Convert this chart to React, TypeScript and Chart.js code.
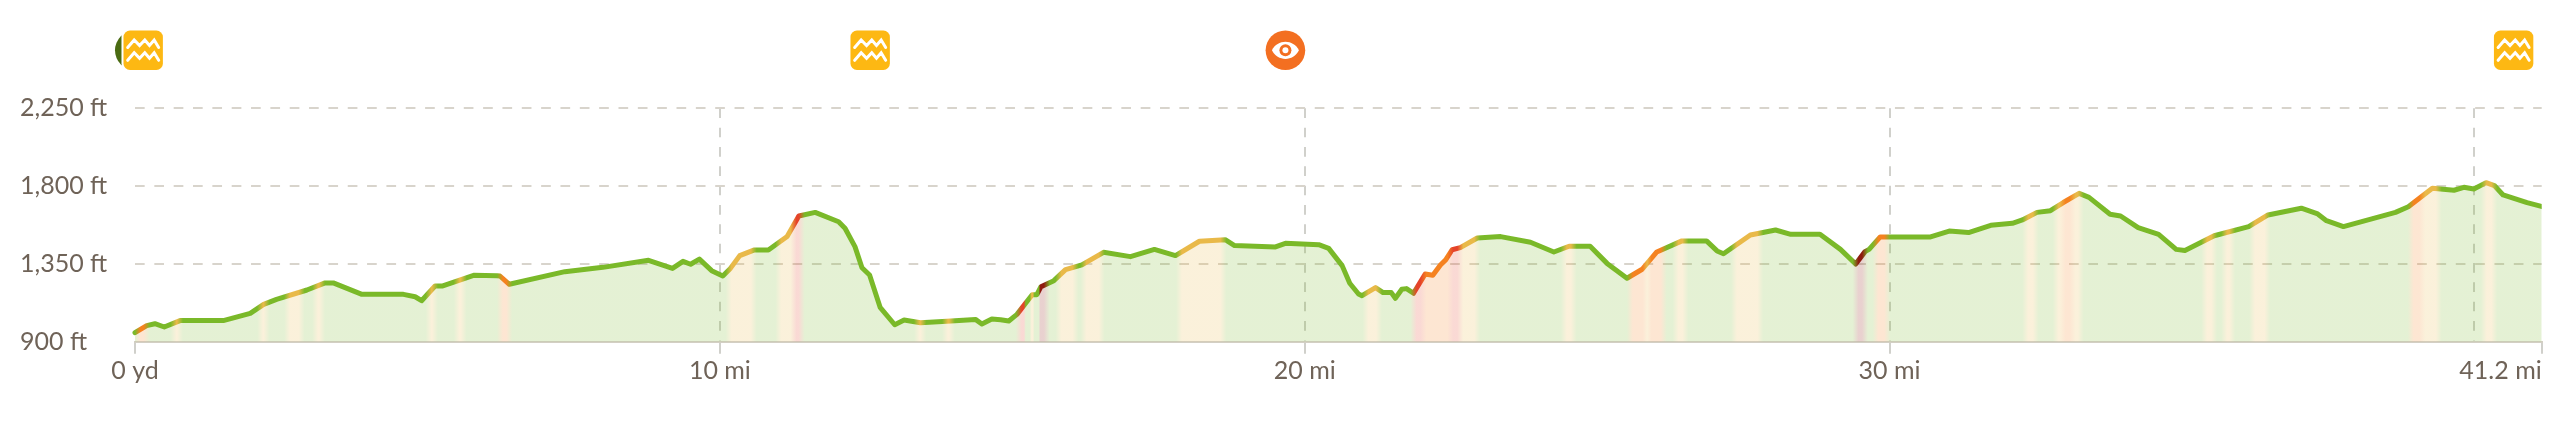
import React, { useEffect, useRef } from "react";
import { Chart, registerables } from "chart.js";

Chart.register(...registerables);

const distanceMi = [
  0, 0.2, 0.34, 0.5, 0.77, 1.51, 1.97, 2.2, 2.42, 2.94, 3.25, 3.39, 3.88, 4.59, 4.79, 4.9, 5.13, 5.25, 5.79, 6.19,
  6.24, 6.4, 7.35, 8.0, 8.78, 9.19, 9.37, 9.5, 9.65, 9.86, 10.05, 10.18, 10.34, 10.58, 10.83, 11.15, 11.35, 11.63, 12.03, 12.14,
  12.31, 12.43, 12.56, 12.74, 12.99, 13.15, 13.43, 13.88, 14.37, 14.48, 14.65, 14.8, 14.94, 15.08, 15.34, 15.42, 15.49, 15.71, 15.91, 16.19,
  16.56, 17.02, 17.43, 17.79, 18.2, 18.64, 18.8, 19.5, 19.67, 20.24, 20.41, 20.64, 20.77, 20.92, 20.98, 21.21, 21.34, 21.48, 21.55, 21.66,
  21.74, 21.86, 22.06, 22.19, 22.32, 22.41, 22.52, 22.66, 22.95, 23.35, 23.86, 24.26, 24.52, 24.88, 25.17, 25.51, 25.77, 26.02, 26.45, 26.87,
  27.05, 27.16, 27.62, 28.05, 28.31, 28.81, 29.16, 29.42, 29.58, 29.65, 29.84, 30.7, 31.02, 31.35, 31.73, 32.1, 32.27, 32.52, 32.75, 32.97,
  33.24, 33.41, 33.77, 33.95, 34.25, 34.6, 34.9, 35.05, 35.55, 36.14, 36.47, 37.04, 37.32, 37.47, 37.76, 38.65, 38.87, 39.28, 39.65, 39.82,
  39.99, 40.2, 40.34, 40.49, 40.9, 41.16,
];

const elevationFt = [
  952, 993, 1004, 985, 1022, 1022, 1064, 1116, 1145, 1199, 1240, 1240, 1174, 1174, 1160, 1137, 1222, 1222, 1284, 1282,
  1280, 1232, 1305, 1330, 1371, 1324, 1365, 1348, 1378, 1311, 1280, 1324, 1398, 1430, 1430, 1508, 1627, 1648, 1594, 1556,
  1450, 1328, 1286, 1099, 998, 1025, 1010, 1018, 1029, 1002, 1031, 1027, 1020, 1058, 1172, 1172, 1218, 1253, 1317, 1344,
  1417, 1392, 1434, 1398, 1481, 1490, 1456, 1448, 1469, 1461, 1440, 1340, 1238, 1176, 1166, 1213, 1184, 1184, 1151, 1203,
  1207, 1180, 1292, 1284, 1344, 1373, 1432, 1444, 1500, 1508, 1475, 1419, 1452, 1452, 1353, 1267, 1319, 1419, 1483, 1483,
  1425, 1409, 1517, 1546, 1521, 1521, 1434, 1349, 1421, 1434, 1506, 1506, 1540, 1531, 1573, 1585, 1604, 1648, 1658, 1705,
  1758, 1735, 1637, 1627, 1560, 1521, 1434, 1427, 1513, 1566, 1633, 1672, 1639, 1600, 1566, 1648, 1681, 1787, 1776, 1793,
  1783, 1820, 1803, 1749, 1704, 1681,
];

// Steepness bands along the route: 1 moderate, 2 steep, 3 very steep, 4 extreme
const zoneStart = [
  0.04, 0.66, 2.14, 2.6, 3.08, 5.02, 5.5, 6.24, 10.15, 11.0, 11.26, 13.37, 13.85, 15.11, 15.28, 15.43, 15.79, 16.22, 17.85, 21.04,
  21.86, 22.03, 22.49, 22.66, 24.43, 25.56, 25.83, 25.88, 26.34, 27.34, 29.42, 29.76, 32.32, 32.84, 32.96, 33.13, 35.38, 35.72, 36.2, 38.91,
  39.11, 40.16,
];
const zoneEnd = [
  0.2, 0.77, 2.25, 2.85, 3.2, 5.13, 5.62, 6.4, 10.58, 11.26, 11.4, 13.48, 13.97, 15.25, 15.4, 15.59, 16.08, 16.53, 18.61, 21.27,
  22.03, 22.49, 22.66, 22.95, 24.6, 25.83, 25.88, 26.14, 26.51, 27.79, 29.58, 29.96, 32.5, 32.96, 33.13, 33.27, 35.55, 35.86, 36.46, 39.11,
  39.39, 40.34,
];
const zoneLevel = [
  2, 1, 1, 1, 1, 1, 1, 2, 1, 1, 3, 1, 1, 3, 1, 4, 1, 1, 1, 1,
  3, 2, 3, 1, 1, 2, 1, 2, 1, 1, 4, 2, 1, 1, 2, 1, 1, 1, 1, 2,
  1, 1,
];
const levelRgb = ["122,185,41", "233,185,73", "245,130,32", "229,67,42", "143,26,16"];

const yTicks = [900, 1350, 1800, 2250];
const yTickLabels = ["900 ft", "1,350 ft", "1,800 ft", "2,250 ft"];
const xTicks = [0, 10, 20, 30, 40, 41.15];
const xTickLabels = ["0 yd", "10 mi", "20 mi", "30 mi", "", "41.2 mi"];

const markerMi = [0, 0.14, 12.57, 19.67, 40.67];
const markerKind = ["start", "water", "water", "view", "water"];

const FONT = "Lato, sans-serif";
const TEXT = "#6f6358";
const GRID_H = "#d8d4cc";
const GRID_V = "#d0d0cb";
const AXIS = "#d3cfc4";
const MAX_MI = 41.15;
const BLUR = 0.05;
const DASH = [9.67, 9.67];

function gradeGradient(chart: any, alpha: number) {
  const x = chart.scales.x;
  const rgb = (l: number) => `rgba(${levelRgb[l]},${alpha})`;
  if (!x || !chart.chartArea) return rgb(0);
  const left = chart.chartArea.left;
  const right = chart.chartArea.right;
  const g = chart.ctx.createLinearGradient(left, 0, right, 0);
  const stop = (mi: number, l: number) => {
    const t = (x.getPixelForValue(mi) - left) / (right - left);
    g.addColorStop(Math.min(1, Math.max(0, t)), rgb(l));
  };
  let cursor = -1;
  stop(0, 0);
  zoneStart.forEach((s, i) => {
    const e = zoneEnd[i];
    if (s - cursor > 0.005) {
      if (cursor >= 0) stop(cursor + BLUR, 0);
      stop(Math.max(0, s - BLUR), 0);
    }
    const mid = (s + e) / 2;
    stop(Math.min(s + BLUR, mid), zoneLevel[i]);
    stop(Math.max(e - BLUR, mid), zoneLevel[i]);
    cursor = e;
  });
  stop(cursor + BLUR, 0);
  stop(MAX_MI, 0);
  return g;
}

function roundedSquare(c: CanvasRenderingContext2D, cx: number, cy: number, half: number, r: number) {
  c.beginPath();
  c.roundRect(cx - half, cy - half, half * 2, half * 2, r);
}

function drawWater(c: CanvasRenderingContext2D, cx: number, cy: number) {
  roundedSquare(c, cx, cy, 21.7, 8);
  c.fillStyle = "#ffffff";
  c.fill();
  roundedSquare(c, cx, cy, 19.7, 6.5);
  c.fillStyle = "#fdb813";
  c.fill();
  c.strokeStyle = "#ffffff";
  c.lineWidth = 3;
  c.lineJoin = "miter";
  c.lineCap = "round";
  const zig = [
    [-15.5, 0],
    [-9, -7.5],
    [-3.6, -2],
    [1.6, -7.5],
    [6.3, -2],
    [11, -7.5],
    [15.5, 0],
  ];
  [-2.8, 10].forEach((dy) => {
    c.beginPath();
    zig.forEach(([dx, yy], i) => {
      if (i === 0) c.moveTo(cx + dx, cy + dy + yy);
      else c.lineTo(cx + dx, cy + dy + yy);
    });
    c.stroke();
  });
}

function drawView(c: CanvasRenderingContext2D, cx: number, cy: number) {
  c.beginPath();
  c.arc(cx, cy, 19.8, 0, Math.PI * 2);
  c.fillStyle = "#f36f21";
  c.fill();
  c.beginPath();
  c.moveTo(cx - 13.5, cy);
  c.bezierCurveTo(cx - 8, cy - 11.5, cx + 8, cy - 11.5, cx + 13.5, cy);
  c.bezierCurveTo(cx + 8, cy + 11.5, cx - 8, cy + 11.5, cx - 13.5, cy);
  c.closePath();
  c.fillStyle = "#ffffff";
  c.fill();
  c.beginPath();
  c.arc(cx, cy, 6, 0, Math.PI * 2);
  c.fillStyle = "#f36f21";
  c.fill();
  c.beginPath();
  c.arc(cx, cy, 3, 0, Math.PI * 2);
  c.fillStyle = "#ffffff";
  c.fill();
}

const trailPlugin = {
  id: "trailPlugin",
  beforeDraw(chart: any) {
    const items = chart.scales.x.getLabelItems();
    if (items.length) items[items.length - 1].options.textAlign = "right";
  },
  afterDraw(chart: any) {
    const c = chart.ctx;
    const x = chart.scales.x;
    const cy = 50.3;
    c.save();
    markerMi.forEach((mi, i) => {
      const px = x.getPixelForValue(mi);
      if (markerKind[i] === "water") drawWater(c, px, cy);
      else if (markerKind[i] === "view") drawView(c, px, cy);
      else {
        c.beginPath();
        c.arc(px, cy, 20, 0, Math.PI * 2);
        c.fillStyle = "#4a6b12";
        c.fill();
      }
    });
    c.restore();
  },
};

export default function App() {
  const ref = useRef<HTMLCanvasElement | null>(null);

  useEffect(() => {
    document.body.style.margin = "0";
    document.body.style.background = "#ffffff";
    if (!ref.current) return;
    const chart = new Chart(ref.current, {
      type: "line",
      data: {
        datasets: [
          {
            data: distanceMi.map((d, i) => ({ x: d, y: elevationFt[i] })),
            borderColor: (ctx: any) => gradeGradient(ctx.chart, 1),
            backgroundColor: (ctx: any) => gradeGradient(ctx.chart, 0.2),
            borderWidth: 5,
            borderJoinStyle: "round",
            borderCapStyle: "round",
            pointRadius: 0,
            tension: 0,
            fill: "start",
            clip: { left: 3, top: 3, right: 0, bottom: 0 },
          },
        ],
      },
      options: {
        animation: false,
        responsive: false,
        devicePixelRatio: 1,
        layout: { padding: { left: 20, top: 108.3, right: 18.3, bottom: 0 } },
        plugins: { legend: { display: false }, tooltip: { enabled: false } },
        scales: {
          x: {
            type: "linear",
            min: 0,
            max: MAX_MI,
            afterFit: (s: any) => {
              s.height = 87.3;
              s.paddingLeft = 0;
              s.paddingRight = 0;
            },
            afterBuildTicks: (s: any) => {
              s.ticks = xTicks.map((value) => ({ value }));
            },
            border: { display: true, color: AXIS, width: 2, dash: DASH },
            grid: {
              lineWidth: 2,
              drawOnChartArea: true,
              tickLength: 12,
              tickWidth: 2,
              color: (c: any) => (c.tick && c.tick.value > 0 && c.tick.value < MAX_MI ? GRID_V : "rgba(0,0,0,0)"),
              tickColor: (c: any) => (c.tick && c.tick.value === 40 ? "rgba(0,0,0,0)" : GRID_V),
            },
            ticks: {
              autoSkip: false,
              maxRotation: 0,
              color: TEXT,
              padding: 2,
              font: { family: FONT, size: 25 },
              callback: (v: any) => xTickLabels[xTicks.indexOf(v)] ?? "",
            },
          },
          y: {
            type: "linear",
            min: 900,
            max: 2250,
            afterFit: (s: any) => {
              s.width = 115;
              s.paddingTop = 0;
              s.paddingBottom = 0;
            },
            afterBuildTicks: (s: any) => {
              s.ticks = yTicks.map((value) => ({ value }));
            },
            border: { display: false, dash: DASH },
            grid: {
              lineWidth: 2,
              drawTicks: false,
              color: (c: any) => (c.tick && c.tick.value === 900 ? "rgba(0,0,0,0)" : GRID_H),
            },
            ticks: {
              crossAlign: "far",
              color: TEXT,
              padding: 0,
              font: { family: FONT, size: 25 },
              callback: (v: any) => yTickLabels[yTicks.indexOf(v)] ?? "",
            },
          },
        },
      },
      plugins: [trailPlugin],
    } as any);
    return () => chart.destroy();
  }, []);

  return (
    <div style={{ width: 2560, height: 429 }}>
      <canvas ref={ref} width={2560} height={429} style={{ display: "block", width: 2560, height: 429 }} />
    </div>
  );
}
